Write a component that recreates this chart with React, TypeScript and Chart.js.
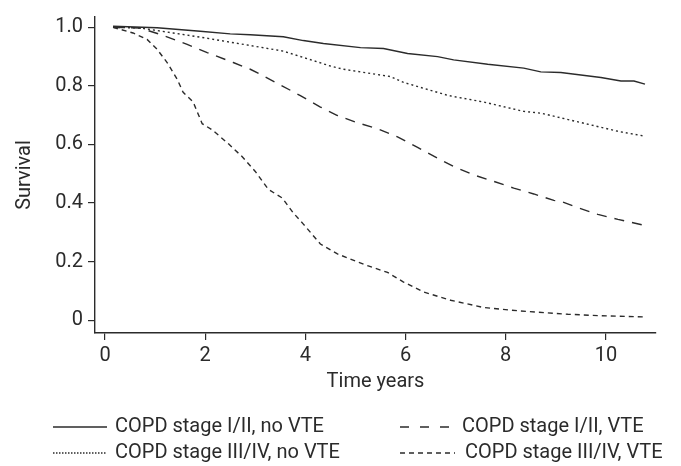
import React, { useEffect, useRef } from "react";
import { Chart, registerables } from "chart.js";

Chart.register(...registerables);

// Series: time (years) and survival values
const timeIIno = [0.16, 1.04, 1.9, 2.5, 2.9, 3.56, 3.96, 4.36, 5.1, 5.56, 6.04, 6.64, 6.96, 7.64, 8.36, 8.7, 9.1, 9.9, 10.3, 10.56, 10.78];
const survIIno = [1.004, 0.999, 0.987, 0.978, 0.975, 0.968, 0.955, 0.945, 0.931, 0.928, 0.911, 0.9, 0.889, 0.874, 0.861, 0.848, 0.846, 0.829, 0.817, 0.817, 0.806];

const timeIVno = [0.16, 0.7, 1.36, 2.0, 2.9, 3.56, 4.5, 4.76, 5.7, 5.96, 6.86, 7.56, 8.36, 8.7, 9.3, 10.24, 10.76];
const survIVno = [1.0, 0.998, 0.981, 0.964, 0.938, 0.919, 0.868, 0.857, 0.832, 0.812, 0.767, 0.745, 0.713, 0.707, 0.683, 0.645, 0.629];

const timeIIvte = [0.16, 0.7, 1.1, 1.64, 2.04, 2.56, 2.9, 3.1, 3.9, 4.3, 4.64, 5.04, 5.44, 5.84, 6.24, 6.64, 6.96, 7.36, 7.76, 8.16, 8.56, 8.96, 9.1, 9.36, 9.84, 10.24, 10.74];
const survIIvte = [1.0, 0.998, 0.976, 0.942, 0.914, 0.88, 0.857, 0.84, 0.767, 0.728, 0.699, 0.674, 0.654, 0.626, 0.59, 0.553, 0.525, 0.496, 0.474, 0.451, 0.431, 0.409, 0.406, 0.389, 0.361, 0.344, 0.325];

const timeIVvte = [0.16, 0.56, 0.84, 1.04, 1.24, 1.44, 1.56, 1.76, 1.94, 2.14, 2.46, 2.74, 3.0, 3.26, 3.54, 3.76, 3.96, 4.3, 4.64, 5.24, 5.64, 5.96, 6.36, 6.9, 7.56, 8.24, 9.24, 9.9, 10.76];
const survIVvte = [1.0, 0.981, 0.959, 0.925, 0.88, 0.823, 0.778, 0.745, 0.671, 0.65, 0.603, 0.558, 0.508, 0.447, 0.417, 0.366, 0.328, 0.26, 0.226, 0.186, 0.163, 0.13, 0.096, 0.068, 0.043, 0.032, 0.02, 0.015, 0.011];

const seriesNames = [
  "COPD stage I/II, no VTE",
  "COPD stage III/IV, no VTE",
  "COPD stage I/II, VTE",
  "COPD stage III/IV, VTE",
];

const xTickValues = [0, 2, 4, 6, 8, 10];
const yTickValues = [0, 0.2, 0.4, 0.6, 0.8, 1.0];
const yTickLabels = ["0", "0.2", "0.4", "0.6", "0.8", "1.0"];

const INK = "#2b2b2b";
const FONT = "Roboto";

function toPoints(t: number[], v: number[]) {
  return t.map((x, i) => ({ x, y: v[i] }));
}

const legendPlugin = {
  id: "customLegend",
  afterDraw(chart: any) {
    const ctx = chart.ctx;
    const items = [
      { name: seriesNames[0], dash: [], x1: 53, x2: 107, tx: 115, y: 427 },
      { name: seriesNames[1], dash: [1.5, 1.5], x1: 53, x2: 107, tx: 115, y: 453 },
      { name: seriesNames[2], dash: [9, 11], x1: 400, x2: 453, tx: 462, y: 427 },
      { name: seriesNames[3], dash: [5, 4], x1: 400, x2: 455, tx: 465, y: 453 },
    ];
    ctx.save();
    ctx.font = `20px ${FONT}`;
    ctx.textBaseline = "middle";
    ctx.textAlign = "left";
    items.forEach((it) => {
      ctx.beginPath();
      ctx.setLineDash(it.dash);
      ctx.strokeStyle = INK;
      ctx.lineWidth = 1.4;
      ctx.moveTo(it.x1, it.y);
      ctx.lineTo(it.x2, it.y);
      ctx.stroke();
      ctx.setLineDash([]);
      ctx.fillStyle = INK;
      ctx.fillText(it.name, it.tx, it.y);
    });
    ctx.restore();
  },
};

export default function App() {
  const ref = useRef<HTMLCanvasElement | null>(null);

  useEffect(() => {
    if (!ref.current) return;
    const common = { borderColor: INK, borderWidth: 1.4, pointRadius: 0, fill: false, tension: 0 };
    const chart = new Chart(ref.current, {
      type: "line",
      data: {
        datasets: [
          { ...common, label: seriesNames[0], data: toPoints(timeIIno, survIIno), borderDash: [] },
          { ...common, label: seriesNames[1], data: toPoints(timeIVno, survIVno), borderDash: [2, 3] },
          { ...common, label: seriesNames[2], data: toPoints(timeIIvte, survIIvte), borderDash: [10, 8] },
          { ...common, label: seriesNames[3], data: toPoints(timeIVvte, survIVvte), borderDash: [5, 4] },
        ],
      },
      options: {
        animation: false,
        responsive: false,
        devicePixelRatio: 1,
        layout: { padding: { left: 0, right: 25, top: 14, bottom: 72 } },
        plugins: { legend: { display: false }, tooltip: { enabled: false } },
        scales: {
          x: {
            type: "linear",
            min: -0.2,
            max: 11.0,
            afterBuildTicks: (s: any) => {
              s.ticks = xTickValues.map((v) => ({ value: v }));
            },
            afterFit: (s: any) => {
              s.height = 61;
            },
            ticks: { color: INK, font: { family: FONT, size: 20 }, padding: 4, callback: (v: any) => String(v) },
            grid: { drawOnChartArea: false, drawTicks: true, tickLength: 7, color: INK, lineWidth: 1.2 },
            border: { display: true, color: INK, width: 1.4 },
            title: { display: true, text: "Time years", color: INK, font: { family: FONT, size: 20 }, padding: { top: 0, bottom: 0 } },
          },
          y: {
            type: "linear",
            min: -0.044,
            max: 1.0355,
            afterBuildTicks: (s: any) => {
              s.ticks = yTickValues.map((v) => ({ value: v }));
            },
            afterFit: (s: any) => {
              s.width = 95;
            },
            ticks: {
              color: INK,
              font: { family: FONT, size: 20 },
              padding: 5,
              callback: (v: any) => {
                const i = yTickValues.findIndex((t) => Math.abs(t - v) < 1e-9);
                return i >= 0 ? yTickLabels[i] : "";
              },
            },
            grid: { drawOnChartArea: false, drawTicks: true, tickLength: 7, color: INK, lineWidth: 1.2 },
            border: { display: true, color: INK, width: 1.4 },
            title: { display: true, text: "Survival", color: INK, font: { family: FONT, size: 20 }, padding: { top: 13, bottom: 0 } },
          },
        },
      },
      plugins: [legendPlugin],
    });
    return () => chart.destroy();
  }, []);

  return (
    <div style={{ position: "fixed", left: 0, top: 0, width: 681, height: 466, background: "#fff" }}>
      <canvas ref={ref} width={681} height={466} style={{ display: "block", width: 681, height: 466 }} />
    </div>
  );
}
